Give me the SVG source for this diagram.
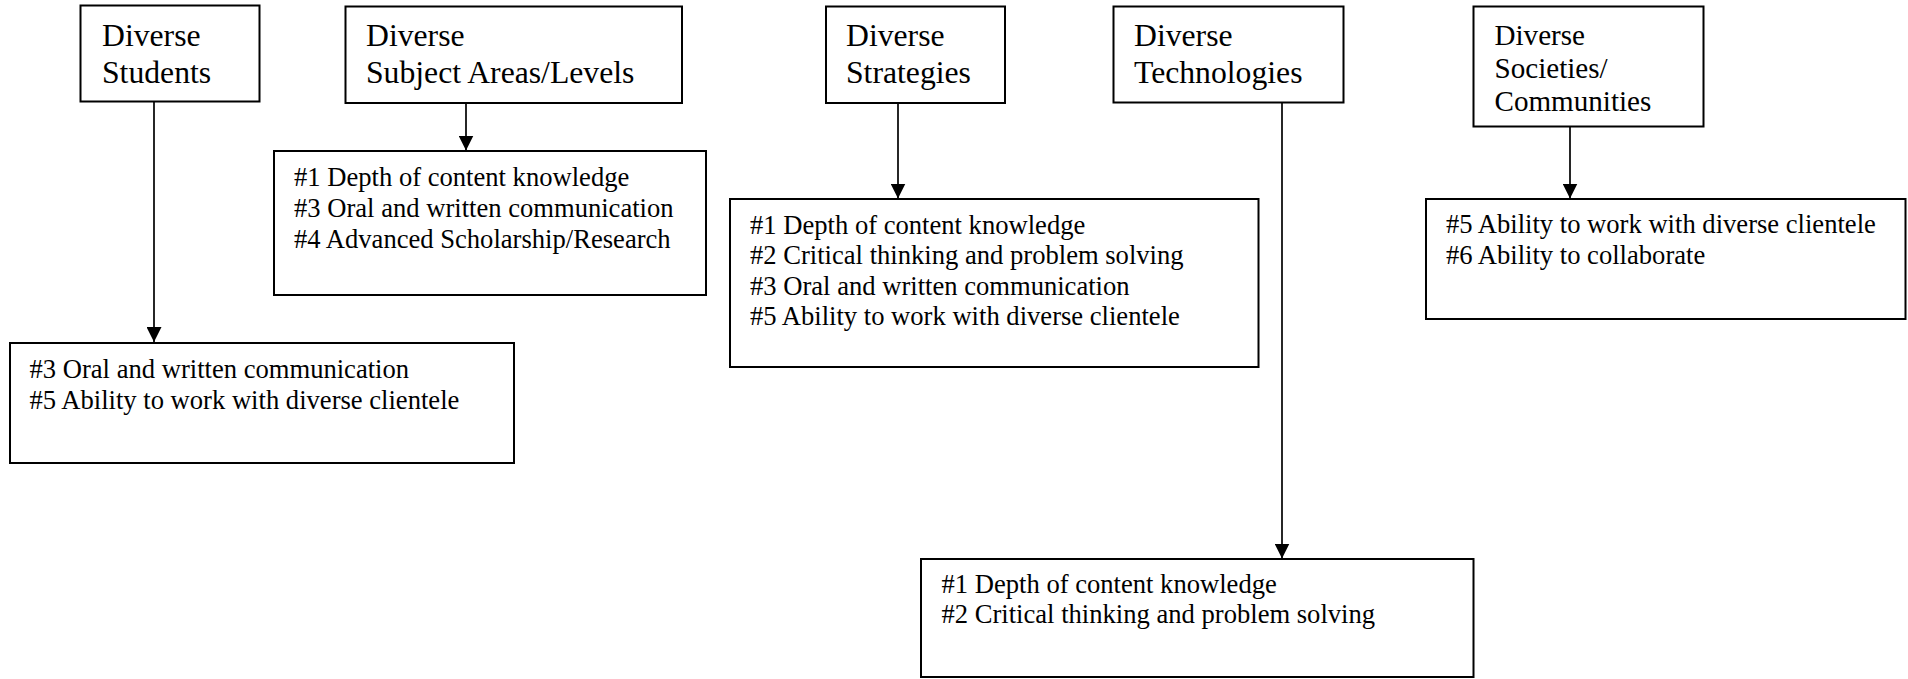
<svg xmlns="http://www.w3.org/2000/svg" width="1908" height="679" viewBox="0 0 1908 679">
<style>
.box{fill:#fff;stroke:#000;stroke-width:2}
.t{font-family:"Liberation Serif","Times New Roman",serif;font-size:31.7px;fill:#000}
.ts{font-family:"Liberation Serif","Times New Roman",serif;font-size:29.1px;fill:#000}
.b{font-family:"Liberation Serif","Times New Roman",serif;font-size:26.6px;fill:#000}
.c{stroke:#000;stroke-width:1.7;fill:none}
</style>
<defs>
<marker id="ah" markerWidth="15" markerHeight="15" refX="15" refY="7.5" orient="auto" markerUnits="userSpaceOnUse">
<path d="M0,0 L15,7.5 L0,15 z" fill="#000"/>
</marker>
</defs>
<rect width="1908" height="679" fill="#fff"/>
<g id="connectors">
<line class="c" x1="154" y1="102" x2="154" y2="342" marker-end="url(#ah)"/>
<line class="c" x1="466" y1="103" x2="466" y2="150.5" marker-end="url(#ah)"/>
<line class="c" x1="898" y1="103" x2="898" y2="198.5" marker-end="url(#ah)"/>
<line class="c" x1="1282" y1="102" x2="1282" y2="558.5" marker-end="url(#ah)"/>
<line class="c" x1="1570" y1="127" x2="1570" y2="198.5" marker-end="url(#ah)"/>
</g>
<g id="n-students">
<rect class="box" x="80.5" y="5.5" width="179" height="96"/>
<text class="t" x="102" y="46">Diverse</text>
<text class="t" x="102" y="83">Students</text>
</g>
<g id="n-subject">
<rect class="box" x="345.5" y="6.5" width="336.5" height="96.5"/>
<text class="t" x="366" y="46">Diverse</text>
<text class="t" x="366" y="83">Subject Areas/Levels</text>
</g>
<g id="n-strategies">
<rect class="box" x="826" y="6.5" width="179" height="96.5"/>
<text class="t" x="846" y="46">Diverse</text>
<text class="t" x="846" y="83">Strategies</text>
</g>
<g id="n-technologies">
<rect class="box" x="1113.5" y="6.5" width="230" height="96"/>
<text class="t" x="1134" y="46">Diverse</text>
<text class="t" x="1134" y="83">Technologies</text>
</g>
<g id="n-societies">
<rect class="box" x="1473.5" y="6.5" width="230" height="120"/>
<text class="ts" x="1494.5" y="45">Diverse</text>
<text class="ts" x="1494.5" y="78.3">Societies/</text>
<text class="ts" x="1494.5" y="111">Communities</text>
</g>
<g id="o-students">
<rect class="box" x="10" y="343" width="504" height="120"/>
<text class="b" x="29.5" y="377.5">#3 Oral and written communication</text>
<text class="b" x="29.5" y="408.5">#5 Ability to work with diverse clientele</text>
</g>
<g id="o-subject">
<rect class="box" x="274" y="151" width="432" height="144"/>
<text class="b" x="294" y="185.5">#1 Depth of content knowledge</text>
<text class="b" x="294" y="216.5">#3 Oral and written communication</text>
<text class="b" x="294" y="247.5">#4 Advanced Scholarship/Research</text>
</g>
<g id="o-strategies">
<rect class="box" x="730" y="199" width="528.5" height="168"/>
<text class="b" x="750" y="233.5">#1 Depth of content knowledge</text>
<text class="b" x="750" y="264">#2 Critical thinking and problem solving</text>
<text class="b" x="750" y="294.7">#3 Oral and written communication</text>
<text class="b" x="750" y="325.2">#5 Ability to work with diverse clientele</text>
</g>
<g id="o-technologies">
<rect class="box" x="921" y="559" width="552.5" height="118"/>
<text class="b" x="941.5" y="592.5">#1 Depth of content knowledge</text>
<text class="b" x="941.5" y="622.5">#2 Critical thinking and problem solving</text>
</g>
<g id="o-societies">
<rect class="box" x="1426" y="199" width="479.5" height="120"/>
<text class="b" x="1446" y="233">#5 Ability to work with diverse clientele</text>
<text class="b" x="1446" y="264.3">#6 Ability to collaborate</text>
</g>
</svg>
